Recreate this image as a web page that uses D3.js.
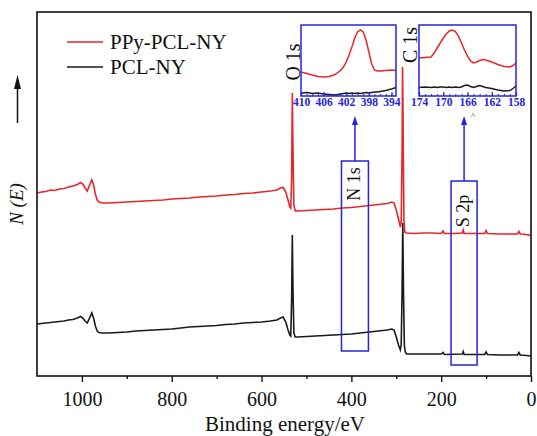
<!DOCTYPE html>
<html><head><meta charset="utf-8">
<script src="https://cdn.jsdelivr.net/npm/d3@7"></script>
<style>
body{margin:0;background:#fff}
svg{display:block}
text{font-family:"Liberation Serif","Times New Roman",serif}
</style>
</head><body>
<svg id="c" width="537" height="436"></svg>
<script>
// ---------- DATA ----------
const seriesNames = ["PPy-PCL-NY", "PCL-NY"];
const xTicks = [1000, 800, 600, 400, 200, 0];
const xMinorTicks = [900, 700, 500, 300, 100];

const redE = [1100,1090,1080,1070,1060,1050,1040,1030,1020,1010,1003,998,993,988,983,978,974,970,966,962,955,940,920,900,880,860,840,820,800,780,760,740,720,700,680,660,640,620,600,580,566,558,552,546,541,537,535,533,531.5,530,528,525,520,500,480,460,440,420,400,380,360,340,320,310,305,300,295,291,289,287,286,284.5,283,281,278,260,240,220,200,196,193,170,153,151,149,130,103,100,97,70,50,30,27,24,10,0];
const redI = [183,184,184.5,186,185.5,187,187.5,189,190,191.5,193.5,192,188,185,191,196,191,182,176,174,173,173,173.5,174,174.5,175,175.5,176,177,177.5,178,179,179.5,180,181,181.5,182.5,183,184,185,186,188,188.5,184,176,169,168,196,283,226,171,165,165,165.5,166,166.5,167,168,168.5,169.5,170.5,171.5,172.5,174,173,166,157,149,154,226,309,236,156,144,143,142.5,143,143,142.5,145,142.5,142.5,143,146,142.5,142.5,142.5,145.5,142.5,142,142,142,144.5,142,141.5,140.5];

const blackE = [1100,1090,1080,1070,1060,1050,1040,1030,1020,1010,1003,998,993,988,983,978,974,970,966,962,955,940,920,900,880,860,840,820,800,780,760,740,720,700,680,660,640,620,600,580,566,558,552,546,541,537,535,533,531.5,530,528,525,520,500,480,460,440,420,400,380,360,340,320,310,305,300,295,291,289,287,285.5,284,282,280,277,260,200,196,193,153,151,149,103,100,97,70,30,27,24,10,0];
const blackI = [52,52.5,53,53.5,54,54.5,55,56,56.5,58,59.5,58,55,53,58,63,58,50,45,43.5,43,43,43.5,44,45,45.5,46,46.5,47,48,49,49.5,50,50.5,51.5,52,53,53.5,54,55,56,58,59,54,46,41,40,76,141,86,43,39,39,39.5,40,40.5,41,41.5,42,43,44,45,46,47,46,39,31,26,31,86,153,86,31,24,22,22,22,23.5,21.5,22,24.5,21.5,21.5,24,21.5,21,21,23.5,21,20.5,20];

// N 1s inset
const n1sTicks = [410, 406, 402, 398, 394];
const n1sE = [410,409,408,407,406,405,404,403,402.5,402,401.5,401,400.5,400,399.5,399,398.5,398,397.5,397,396.5,396,395,394,393.2];
const n1sRed = [24,22.5,21,19.5,19,19.5,21.5,25.5,29,34,41,49,58,64,66,64,56,44,32,26,25,25,25.5,26,25.5];
const n1sBlack = [3,3.5,2.5,3,2,1.5,1,2,2.5,3,2.5,3,2.5,3,2.5,3,3.5,3,3.5,4,4,4.5,5.5,7,8.5];

// S 2p inset
const s2pTicks = [174, 170, 166, 162, 158];
const s2pE = [174,173,172,171.5,171,170.5,170,169.5,169,168.5,168,167.5,167,166.5,166,165.5,165,164.5,164,163.5,163,162,161,160,159,158.5,158];
const s2pRed = [38,38.5,39,43,48,53,58,62,65,66,64.5,60,53,46,40,35,33,34,35.5,36.5,36,34,31.5,29.5,29,30.5,33];
const s2pBlack = [8.5,9,8.5,9,8.5,9,9,8.5,9,8.5,9,8.5,9,10.5,11,9.5,8.5,9.5,10.5,9.5,8.5,7.5,6,5,5.5,7.5,10];

const peakLabels = [
  {text: "O 1s", eV: 531},
  {text: "C 1s", eV: 285}
];
const regionBoxes = [
  {text: "N 1s", from: 422, to: 362},
  {text: "S 2p", from: 178, to: 120}
];

// ---------- LAYOUT ----------
const RED = "#e8262a", BLACK = "#1a1a1a", BLUE = "#2424dc";
const L = 37, R = 531, T = 12, B = 376;
const svg = d3.select("#c");

const x = d3.scaleLinear().domain([1100, 0]).range([L, R]);
const y = d3.scaleLinear().domain([0, 364]).range([B, T]);

const toPts = (E, I) => E.map((e, i) => [e, I[i]]);
const line = d3.line().x(d => x(d[0])).y(d => y(d[1]));

// main curves
svg.append("path").datum(toPts(blackE, blackI)).attr("d", line)
  .attr("fill", "none").attr("stroke", BLACK).attr("stroke-width", 1.6);
svg.append("path").datum(toPts(redE, redI)).attr("d", line)
  .attr("fill", "none").attr("stroke", RED).attr("stroke-width", 1.6);

// frame
svg.append("rect").attr("x", L).attr("y", T).attr("width", R - L).attr("height", B - T)
  .attr("fill", "none").attr("stroke", "#111").attr("stroke-width", 1.6);

// x axis
const ax = svg.append("g").attr("transform", `translate(0,${B})`)
  .call(d3.axisBottom(x).tickValues(xTicks).tickSize(6).tickPadding(10).tickFormat(d3.format("d")));
ax.select(".domain").remove();
ax.selectAll("line").attr("stroke", "#111").attr("stroke-width", 1.4);
ax.selectAll("text").attr("font-size", 20).attr("fill", "#111")
  .style("font-family", '"Liberation Serif","Times New Roman",serif');
const axm = svg.append("g").attr("transform", `translate(0,${B})`)
  .call(d3.axisBottom(x).tickValues(xMinorTicks).tickSize(3).tickFormat(""));
axm.select(".domain").remove();
axm.selectAll("line").attr("stroke", "#111").attr("stroke-width", 1.4);

svg.append("text").attr("x", (L + R) / 2 + 1).attr("y", 431).attr("text-anchor", "middle")
  .attr("font-size", 21).attr("fill", "#111").text("Binding energy/eV");

// y label + arrow
svg.append("text").attr("transform", "translate(23,204) rotate(-90)").attr("text-anchor", "middle")
  .attr("font-size", 19).attr("font-style", "italic").attr("fill", "#111").text("N (E)");
svg.append("line").attr("x1", 17.5).attr("x2", 17.5).attr("y1", 123).attr("y2", 86)
  .attr("stroke", "#111").attr("stroke-width", 1.5);
svg.append("path").attr("d", "M17.5,75 L21,89 L14,89 Z").attr("fill", "#111");

// legend
const leg = svg.append("g");
[RED, BLACK].forEach((c, i) => {
  const yy = 42 + i * 25;
  leg.append("line").attr("x1", 67).attr("x2", 103).attr("y1", yy).attr("y2", yy)
    .attr("stroke", c).attr("stroke-width", 1.6);
  leg.append("text").attr("x", 110).attr("y", yy + 7).attr("font-size", 21).attr("fill", "#111")
    .text(seriesNames[i]);
});

// peak labels
svg.append("text").attr("transform", `translate(${x(peakLabels[0].eV) + 7},62) rotate(-90)`)
  .attr("text-anchor", "middle").attr("font-size", 20).attr("fill", "#111").text(peakLabels[0].text);
svg.append("text").attr("transform", `translate(${x(peakLabels[1].eV) + 14},45) rotate(-90)`)
  .attr("text-anchor", "middle").attr("font-size", 20).attr("fill", "#111").text(peakLabels[1].text);

// region boxes with arrows
const boxTops = [161, 181], boxBots = [351, 365], labelOff = [23, 30];
regionBoxes.forEach((b, i) => {
  const x0 = x(b.from), x1 = x(b.to), cx = (x0 + x1) / 2;
  svg.append("rect").attr("x", x0).attr("y", boxTops[i]).attr("width", x1 - x0)
    .attr("height", boxBots[i] - boxTops[i]).attr("fill", "none")
    .attr("stroke", BLUE).attr("stroke-width", 1.5);
  svg.append("line").attr("x1", cx).attr("x2", cx).attr("y1", boxTops[i]).attr("y2", 122)
    .attr("stroke", BLUE).attr("stroke-width", 1.5);
  svg.append("path").attr("d", `M${cx},116 L${cx + 3},125 L${cx - 3},125 Z`).attr("fill", BLUE);
  svg.append("text").attr("transform", `translate(${cx + 5},${boxTops[i] + labelOff[i]}) rotate(-90)`)
    .attr("text-anchor", "middle").attr("font-size", 18).attr("fill", "#111").text(b.text);
});

// insets
function inset(E, red, black, ticks, dom, x0, x1) {
  const iT = 25, iB = 96;
  const ix = d3.scaleLinear().domain(dom).range([x0, x1]);
  const iy = d3.scaleLinear().domain([0, 71]).range([iB, iT]);
  const g = svg.append("g");
  g.append("rect").attr("x", x0).attr("y", iT).attr("width", x1 - x0).attr("height", iB - iT)
    .attr("fill", "#fff");
  const il = d3.line().x(d => ix(d[0])).y(d => iy(d[1]));
  g.append("path").datum(toPts(E, black)).attr("d", il).attr("fill", "none")
    .attr("stroke", BLACK).attr("stroke-width", 1.4);
  g.append("path").datum(toPts(E, red)).attr("d", il).attr("fill", "none")
    .attr("stroke", RED).attr("stroke-width", 1.5);
  const minor = d3.range(Math.ceil(Math.min(...dom)), Math.floor(Math.max(...dom)) + 1);
  const am = g.append("g").attr("transform", `translate(0,${iB})`)
    .call(d3.axisTop(ix).tickValues(minor).tickSize(2).tickFormat(""));
  am.select(".domain").remove();
  am.selectAll("line").attr("stroke", BLUE).attr("stroke-width", 1);
  const a = g.append("g").attr("transform", `translate(0,${iB})`)
    .call(d3.axisTop(ix).tickValues(ticks).tickSize(4).tickFormat(d3.format("d")));
  a.select(".domain").remove();
  a.selectAll("line").attr("stroke", BLUE).attr("stroke-width", 1.2);
  a.selectAll("text").attr("transform", "translate(0,17)").attr("font-size", 11.5)
    .attr("fill", BLUE).attr("font-weight", "bold").attr("dy", "0")
    .style("font-family", '"Liberation Serif","Times New Roman",serif');
  g.append("rect").attr("x", x0).attr("y", iT).attr("width", x1 - x0).attr("height", iB - iT)
    .attr("fill", "none").attr("stroke", BLUE).attr("stroke-width", 1.5);
}
inset(n1sE, n1sRed, n1sBlack, n1sTicks, [410, 393.2], 301, 396);
inset(s2pE, s2pRed, s2pBlack, s2pTicks, [174, 158], 419, 516);

svg.append("text").attr("x", 473).attr("y", 119).attr("text-anchor", "middle")
  .attr("font-size", 9).attr("fill", "#111").text("^");
</script>
</body></html>
